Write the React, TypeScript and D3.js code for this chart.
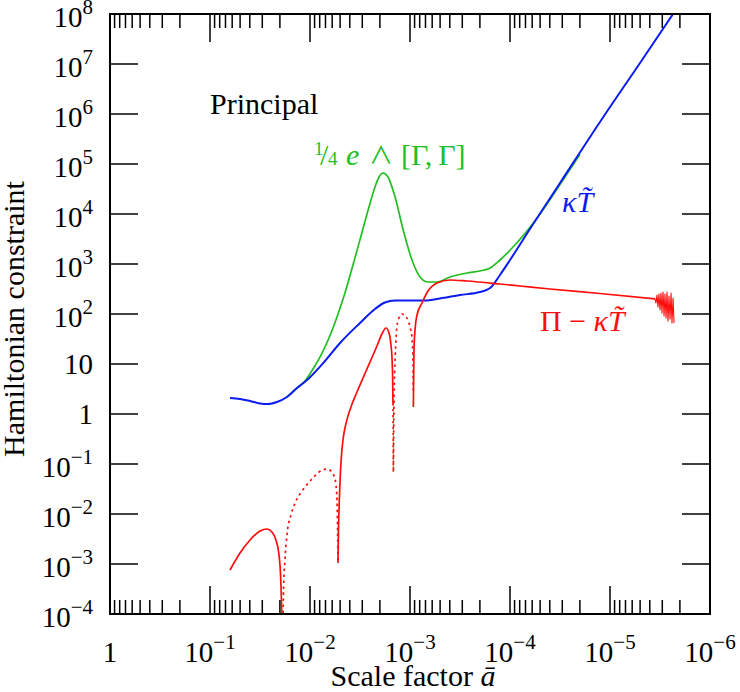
import { useEffect, useRef } from 'react'
import * as d3 from 'd3'

type Pt = [number, number]

// axis decades
const xTickExps = [0, -1, -2, -3, -4, -5, -6]
const yTickExps = [-4, -3, -2, -1, 0, 1, 2, 3, 4, 5, 6, 7, 8]
const minorMultipliers = [2, 3, 4, 5, 6, 7, 8, 9]

// kappa T~ (blue)
const blueKappaT: Pt[] = [
  [6.31e-2, 2.09], [5.01e-2, 2.0], [3.98e-2, 1.82], [3.16e-2, 1.62], [2.63e-2, 1.58],
  [2.14e-2, 1.74], [1.7e-2, 2.19], [1.35e-2, 3.31], [1.07e-2, 4.79], [7.08e-3, 11.5],
  [5.01e-3, 26.3], [3.16e-3, 66.1], [2.24e-3, 126], [1.78e-3, 170], [1.41e-3, 186],
  [1.0e-3, 186], [7.08e-4, 186], [5.01e-4, 204], [3.16e-4, 240], [2.0e-4, 275],
  [1.58e-4, 331], [1.26e-4, 603], [1.0e-4, 1200], [6.61e-5, 4365], [3.16e-5, 4.17e4],
  [1.26e-5, 6.92e5], [5.01e-6, 1.05e7], [2.0e-6, 1.6e8],
]

// 1/4 e ^ [Gamma, Gamma] (green)
const greenGamma: Pt[] = [
  [1.7e-2, 2.19], [1.35e-2, 3.31], [1.12e-2, 4.6], [9.33e-3, 7.94], [7.76e-3, 15.1],
  [6.46e-3, 33.1], [5.37e-3, 87.1], [4.47e-3, 263], [3.72e-3, 955], [3.09e-3, 3631],
  [2.57e-3, 1.38e4], [2.24e-3, 3.47e4], [2.04e-3, 5.5e4], [1.86e-3, 6.61e4],
  [1.66e-3, 5.5e4], [1.41e-3, 2.19e4], [1.17e-3, 4786], [9.55e-4, 1202],
  [7.94e-4, 550], [6.61e-4, 437], [5.37e-4, 437], [3.98e-4, 550], [2.69e-4, 661],
  [2.0e-4, 724], [1.58e-4, 832], [1.26e-4, 1202], [9.33e-5, 2188], [6.76e-5, 4571],
  [4.47e-5, 1.38e4], [3.16e-5, 3.9e4], [2.0e-5, 1.55e5],
]

// |Pi - kappa T~| (red), solid where positive, dotted where negative
const redSolid1: Pt[] = [
  [6.31e-2, 7.59e-4], [5.01e-2, 1.66e-3], [3.98e-2, 3.02e-3], [3.16e-2, 4.57e-3],
  [2.69e-2, 5.01e-3], [2.4e-2, 4.37e-3], [2.19e-2, 3.02e-3], [2.04e-2, 1.51e-3],
  [1.97e-2, 6.03e-4], [1.93e-2, 1.91e-4], [1.905e-2, 6.0e-5],
]
const redDotted1: Pt[] = [
  [1.86e-2, 6.0e-5], [1.84e-2, 3.02e-4], [1.78e-2, 1.2e-3], [1.7e-2, 3.8e-3],
  [1.55e-2, 9.55e-3], [1.41e-2, 1.66e-2], [1.26e-2, 2.51e-2], [1.12e-2, 3.47e-2],
  [9.77e-3, 4.79e-2], [8.32e-3, 6.61e-2], [7.59e-3, 7.59e-2], [6.76e-3, 7.94e-2],
  [6.17e-3, 7.24e-2], [5.75e-3, 5.75e-2], [5.5e-3, 3.8e-2], [5.37e-3, 1.91e-2],
  [5.3e-3, 4.79e-3], [5.25e-3, 1.05e-3],
]
const redSolid2: Pt[] = [
  [5.25e-3, 1.05e-3], [5.19e-3, 4.79e-3], [5.09e-3, 1.91e-2], [4.98e-3, 6.03e-2],
  [4.84e-3, 0.151], [4.68e-3, 0.302], [4.47e-3, 0.525], [4.17e-3, 0.912],
  [3.8e-3, 1.58], [3.39e-3, 2.75], [2.95e-3, 5.25], [2.51e-3, 11.0], [2.14e-3, 22.9],
  [1.91e-3, 39.8], [1.74e-3, 52.5], [1.62e-3, 41.7], [1.55e-3, 24.0], [1.51e-3, 12.0],
  [1.49e-3, 4.79], [1.48e-3, 1.66],
]
const redDotted2: Pt[] = [
  [1.48e-3, 1.66], [1.47e-3, 0.302], [1.466e-3, 6.92e-2], [1.459e-3, 0.302],
  [1.445e-3, 1.91], [1.42e-3, 7.59], [1.39e-3, 24.0], [1.35e-3, 57.5], [1.29e-3, 83.2],
  [1.2e-3, 100], [1.12e-3, 91.2], [1.05e-3, 75.9], [1.0e-3, 55.0], [9.55e-4, 33.1],
  [9.33e-4, 12.0], [9.28e-4, 3.0],
]
const redSolid3: Pt[] = [
  [9.26e-4, 1.38], [9.2e-4, 4.79], [9.12e-4, 19.1], [8.91e-4, 47.9], [8.51e-4, 95.5],
  [7.59e-4, 166], [6.61e-4, 288], [5.37e-4, 417], [3.98e-4, 479], [2.69e-4, 457],
  [1.26e-4, 398], [7.94e-5, 363], [3.98e-5, 316], [1.26e-5, 257], [3.55e-6, 200],
]
const redNoise: Pt[] = [
  [3.55e-6, 200], [3.47e-6, 166], [3.39e-6, 240], [3.31e-6, 138], [3.24e-6, 251],
  [3.16e-6, 120], [3.09e-6, 263], [3.02e-6, 105], [2.95e-6, 275], [2.88e-6, 91.2],
  [2.82e-6, 251], [2.75e-6, 83.2], [2.69e-6, 275], [2.63e-6, 72.4], [2.57e-6, 229],
  [2.51e-6, 79.4], [2.45e-6, 263], [2.4e-6, 66.1], [2.34e-6, 209], [2.29e-6, 66.1],
]

const GREEN = '#22bf22'
const BLUE = '#0b1cf2'
const RED = '#ff0d0d'
const FONT = '"Liberation Serif", "DejaVu Serif", serif'

export default function App() {
  const svgRef = useRef<SVGSVGElement | null>(null)

  useEffect(() => {
    if (!svgRef.current) return
    const width = 740
    const height = 692
    const margin = { top: 14, right: 30, bottom: 78, left: 110 }

    const svg = d3.select(svgRef.current)
    svg.selectAll('*').remove()

    const x = d3.scaleLog().domain([1, 1e-6]).range([margin.left, width - margin.right])
    const y = d3.scaleLog().domain([1e-4, 1e8]).range([height - margin.bottom, margin.top])
    const [x0, x1] = x.range()
    const [y0, y1] = y.range()

    svg
      .append('defs')
      .append('clipPath')
      .attr('id', 'plot-clip')
      .append('rect')
      .attr('x', x0)
      .attr('y', y1)
      .attr('width', x1 - x0)
      .attr('height', y0 - y1)

    const smooth = d3
      .line<Pt>()
      .x((d) => x(d[0]))
      .y((d) => y(d[1]))
      .curve(d3.curveMonotoneX)
    const straight = d3
      .line<Pt>()
      .x((d) => x(d[0]))
      .y((d) => y(d[1]))

    const plot = svg.append('g').attr('clip-path', 'url(#plot-clip)')

    const drawCurve = (data: Pt[], color: string, w: number, dotted = false, gen = smooth) => {
      plot
        .append('path')
        .datum(data)
        .attr('fill', 'none')
        .attr('stroke', color)
        .attr('stroke-width', w)
        .attr('stroke-linejoin', 'round')
        .attr('stroke-dasharray', dotted ? '2.5,3.5' : null)
        .attr('d', gen)
    }

    drawCurve(greenGamma, GREEN, 1.7)
    drawCurve(blueKappaT, BLUE, 2)
    drawCurve(redSolid1, RED, 1.7)
    drawCurve(redDotted1, RED, 1.7, true)
    drawCurve(redSolid2, RED, 1.7)
    drawCurve(redDotted2, RED, 1.7, true)
    drawCurve(redSolid3, RED, 1.7)
    drawCurve(redNoise, RED, 1.1, false, straight)

    // ticks
    const ticks = svg.append('g').attr('stroke', '#000').attr('stroke-width', 1.5)
    const majorLen = 28
    const minorLen = 14

    xTickExps.forEach((e) => {
      const px = x(Math.pow(10, e))
      ticks.append('line').attr('x1', px).attr('x2', px).attr('y1', y0).attr('y2', y0 - majorLen)
      ticks.append('line').attr('x1', px).attr('x2', px).attr('y1', y1).attr('y2', y1 + majorLen)
      if (e === xTickExps[xTickExps.length - 1]) return
      minorMultipliers.forEach((m) => {
        const mx = x(m * Math.pow(10, e - 1))
        ticks.append('line').attr('x1', mx).attr('x2', mx).attr('y1', y0).attr('y2', y0 - minorLen)
        ticks.append('line').attr('x1', mx).attr('x2', mx).attr('y1', y1).attr('y2', y1 + minorLen)
      })
    })

    yTickExps.forEach((e) => {
      const py = y(Math.pow(10, e))
      ticks.append('line').attr('x1', x0).attr('x2', x0 + majorLen).attr('y1', py).attr('y2', py)
      ticks.append('line').attr('x1', x1).attr('x2', x1 - majorLen).attr('y1', py).attr('y2', py)
    })

    svg
      .append('rect')
      .attr('x', x0)
      .attr('y', y1)
      .attr('width', x1 - x0)
      .attr('height', y0 - y1)
      .attr('fill', 'none')
      .attr('stroke', '#000')
      .attr('stroke-width', 2)

    const sup = (e: number) => (e < 0 ? `\u2212${-e}` : `${e}`)

    const labels = svg.append('g').attr('font-family', FONT).attr('fill', '#000')

    yTickExps.forEach((e) => {
      const py = y(Math.pow(10, e))
      const t = labels.append('text').attr('x', x0 - 17).attr('text-anchor', 'end').attr('font-size', 29)
      if (e === 0 || e === 1) {
        t.attr('y', py + 10).text(e === 0 ? '1' : '10')
      } else {
        t.attr('y', py + 13)
        t.append('tspan').text('10')
        t.append('tspan').attr('font-size', 21).attr('dy', -13).text(sup(e))
      }
    })

    xTickExps.forEach((e) => {
      const px = x(Math.pow(10, e))
      const t = labels.append('text').attr('x', px).attr('y', 662).attr('text-anchor', 'middle').attr('font-size', 29)
      if (e === 0) {
        t.text('1')
      } else {
        t.append('tspan').text('10')
        t.append('tspan').attr('font-size', 21).attr('dy', -13).text(sup(e))
      }
    })

    // axis titles
    const xt = labels
      .append('text')
      .attr('x', (x0 + x1) / 2 + 3)
      .attr('y', 686)
      .attr('text-anchor', 'middle')
      .attr('font-size', 30)
    xt.append('tspan').text('Scale factor ')
    xt.append('tspan').attr('font-style', 'italic').text('a\u0304')

    labels
      .append('text')
      .attr('transform', 'translate(24,319) rotate(-90)')
      .attr('text-anchor', 'middle')
      .attr('font-size', 30)
      .text('Hamiltonian constraint')

    labels.append('text').attr('x', 210).attr('y', 114).attr('font-size', 30).text('Principal')

    // curve labels
    const g = labels.append('text').attr('y', 165).attr('font-size', 30).attr('fill', GREEN)
    g.append('tspan').attr('x', 314).attr('font-size', 19).attr('dy', -10).text('1')
    g.append('tspan').attr('x', 320).attr('dy', 10).text('/')
    g.append('tspan').attr('x', 328).attr('font-size', 19).text('4')
    g.append('tspan').attr('x', 346).attr('font-style', 'italic').text('e')
    g.append('tspan')
      .attr('x', 369)
      .attr('dy', -1)
      .attr('font-size', 24)
      .attr('font-family', '"Noto Sans CJK SC", "DejaVu Serif", serif')
      .text('\u2227')
    g.append('tspan').attr('x', 401).attr('dy', 1).text('[\u0393,\u2009\u0393]')

    const b = labels.append('text').attr('x', 562).attr('y', 212).attr('font-size', 30).attr('fill', BLUE)
    b.append('tspan').attr('font-style', 'italic').text('\u03BAT\u0303')

    const r = labels.append('text').attr('x', 540).attr('y', 331).attr('font-size', 30).attr('fill', RED)
    r.append('tspan').text('\u03A0 \u2212 ')
    r.append('tspan').attr('font-style', 'italic').text('\u03BAT\u0303')
  }, [])

  return (
    <svg
      ref={svgRef}
      width={740}
      height={692}
      style={{ position: 'absolute', left: 0, top: 0, background: '#fff' }}
    />
  )
}
